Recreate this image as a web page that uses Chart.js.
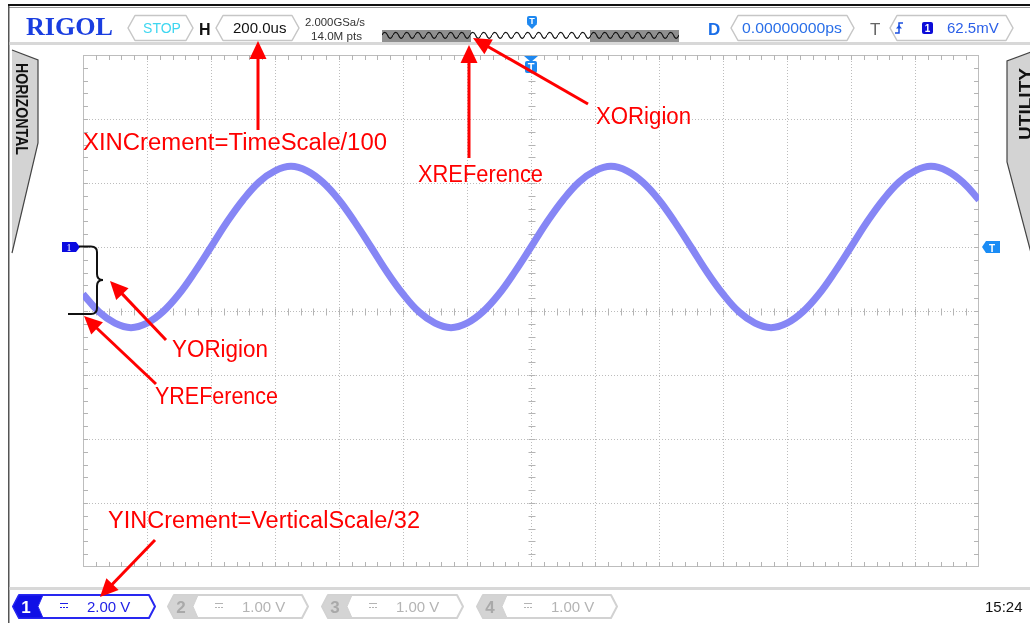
<!DOCTYPE html>
<html><head><meta charset="utf-8">
<script src="https://cdn.jsdelivr.net/npm/chart.js@4/dist/chart.umd.min.js"></script>
<style>
html,body{margin:0;padding:0;background:#fff;width:1030px;height:623px;overflow:hidden}
#wrap{position:relative;width:1030px;height:623px}
#c{position:absolute;left:0;top:0}
#ov{position:absolute;left:0;top:0;pointer-events:none}
text{font-family:'Liberation Sans',Arial,sans-serif}
</style></head><body>
<div id="wrap"><canvas id="c" width="1030" height="623"></canvas>
<svg id="ov" width="1030" height="623" xmlns="http://www.w3.org/2000/svg"></svg></div>
<script>
// ---- data (time in µs, channel 1 in volts) ----
const timesUs = [-1400,-1350,-1300,-1250,-1200,-1150,-1100,-1050,-1000,-950,-900,-850,-800,-750,-700,-650,-600,-550,-500,-450,-400,-350,-300,-250,-200,-150,-100,-50,0,50,100,150,200,250,300,350,400,450,500,550,600,650,700,750,800,850,900,950,1000,1050,1100,1150,1200,1250,1300,1350,1400];
const ch1Volts = [-1.47,-2.03,-2.38,-2.52,-2.38,-2.02,-1.47,-0.77,0.00,0.78,1.47,2.03,2.38,2.52,2.38,2.02,1.47,0.77,0.00,-0.78,-1.47,-2.03,-2.38,-2.52,-2.38,-2.02,-1.47,-0.77,0.00,0.78,1.47,2.03,2.38,2.52,2.38,2.02,1.47,0.77,0.00,-0.78,-1.47,-2.03,-2.38,-2.52,-2.38,-2.02,-1.47,-0.77,0.00,0.78,1.47,2.03,2.38,2.52,2.38,2.02,1.47];
const xRangeUs = [-1400, 1400];   // 14 divisions of 200 µs
const yRangeV = [-10, 6];         // 8 divisions of 2 V, CH1 offset +1 div
const xDivUs = 200, yDivV = 2;
const annotations = ["XINCrement=TimeScale/100","XORigion","XREFerence","YORigion","YREFerence","YINCrement=VerticalScale/32"];

const gridPlugin = {
  id: 'scopeGrid',
  beforeDatasetsDraw(chart){
    const {ctx, chartArea:a, scales:{x, y}} = chart;
    const nx = Math.round((xRangeUs[1]-xRangeUs[0])/xDivUs);
    const ny = Math.round((yRangeV[1]-yRangeV[0])/yDivV);
    const L = (x1,y1,x2,y2)=>{ctx.beginPath();ctx.moveTo(x1,y1);ctx.lineTo(x2,y2);ctx.stroke();};
    ctx.save();
    ctx.lineWidth = 1;
    ctx.strokeStyle = '#bcbcbc';
    ctx.setLineDash([1,2]);
    for(let i=1;i<nx;i++){const px=Math.round(x.getPixelForValue(xRangeUs[0]+i*xDivUs))+0.5; L(px,a.top,px,a.bottom);}
    for(let j=1;j<ny;j++){const py=Math.round(y.getPixelForValue(yRangeV[0]+j*yDivV))+0.5; L(a.left,py,a.right,py);}
    ctx.setLineDash([]);
    ctx.strokeStyle = '#bdbdbd';
    ctx.strokeRect(Math.round(a.left)+0.5, Math.round(a.top)+0.5, Math.round(a.width)-1, Math.round(a.height)-1);
    // minor ticks: edges (inward) and centre lines (both sides)
    ctx.strokeStyle = '#b4b4b4';
    const cx = Math.round(x.getPixelForValue((xRangeUs[0]+xRangeUs[1])/2))+0.5;
    const cy = Math.round(y.getPixelForValue((yRangeV[0]+yRangeV[1])/2))+0.5;
    for(let i=1;i<nx*5;i++){
      const px=Math.round(x.getPixelForValue(xRangeUs[0]+i*xDivUs/5))+0.5;
      L(px,a.top,px,a.top+5); L(px,a.bottom,px,a.bottom-5); L(px,cy-3,px,cy+4);
    }
    for(let j=1;j<ny*5;j++){
      const py=Math.round(y.getPixelForValue(yRangeV[0]+j*yDivV/5))+0.5;
      L(a.left,py,a.left+5,py); L(a.right,py,a.right-5,py); L(cx-3,py,cx+4,py);
    }
    ctx.restore();
  }
};

new Chart(document.getElementById('c'), {
  type: 'line',
  data: { datasets: [{
    data: timesUs.map((t,i)=>({x:t, y:ch1Volts[i]})),
    borderColor: 'rgb(134,134,245)', borderWidth: 7, pointRadius: 0, tension: 0.4, fill: false
  }]},
  options: {
    responsive: false, animation: false, events: [],
    layout: { padding: { left: 83, top: 55, right: 51, bottom: 56 } },
    scales: {
      x: { type: 'linear', min: xRangeUs[0], max: xRangeUs[1], display: false },
      y: { min: yRangeV[0], max: yRangeV[1], display: false }
    },
    plugins: { legend: { display: false }, tooltip: { enabled: false } }
  },
  plugins: [gridPlugin]
});

// ---- instrument chrome and annotations (SVG overlay) ----
function box(x1,x2,y1,y2,d){const m=(y1+y2)/2;return `M${x1+d},${y1} H${x2-d} L${x2},${m} L${x2-d},${y2} H${x1+d} L${x1},${m} Z`;}
function arrow(x1,y1,x2,y2){
  const dx=x2-x1, dy=y2-y1, l=Math.hypot(dx,dy), ux=dx/l, uy=dy/l, hl=18, hw=8.5;
  const bx=x2-ux*hl, by=y2-uy*hl;
  return `<line x1="${x1}" y1="${y1}" x2="${bx+ux*2}" y2="${by+uy*2}" stroke="#ff0000" stroke-width="3"/>`+
         `<polygon points="${x2},${y2} ${bx-uy*hw},${by+ux*hw} ${bx+uy*hw},${by-ux*hw}" fill="#ff0000"/>`;
}
function chan(x1,x2,num,volt,on){
  const y1=595,y2=618,m=(y1+y2)/2,d=6;
  const stroke=on?'#2828f0':'#d2d2d2', fillL=on?'#1010e6':'#d4d4d4', txt=on?'#1e1ee6':'#b4b4b4', dig=on?'#fff':'#a9a9a9';
  let s=`<path d="${box(x1,x2,y1,y2,d)}" fill="#fff" stroke="${stroke}" stroke-width="2" stroke-linejoin="round"/>`;
  s+=`<path d="M${x1},${m} L${x1+d},${y1} H${x1+30} L${x1+25},${m} L${x1+30},${y2} H${x1+d} Z" fill="${fillL}" stroke="${stroke}" stroke-width="1" stroke-linejoin="round"/>`;
  s+=`<text x="${x1+13}" y="613" font-size="17" font-weight="bold" fill="${dig}" text-anchor="middle">${num}</text>`;
  const sx=x1+47;
  s+=`<line x1="${sx}" y1="603.5" x2="${sx+8}" y2="603.5" stroke="${txt}" stroke-width="1"/>`;
  s+=`<line x1="${sx}" y1="607.5" x2="${sx+8}" y2="607.5" stroke="${txt}" stroke-width="1" stroke-dasharray="2,1"/>`;
  s+=`<text x="${x1+74}" y="612" font-size="15" fill="${txt}">${volt}</text>`;
  return s;
}
let s = '';
s += `<defs><pattern id="mw" x="382" y="30" width="11" height="12" patternUnits="userSpaceOnUse"><path d="M0,5 C1.8,1.5 3.7,1.5 5.5,5 C7.3,9.5 9.2,9.5 11,5" fill="none" stroke="#111" stroke-width="1.1"/></pattern></defs>`;
// frame
s += `<rect x="8" y="4" width="1022" height="2" fill="#111"/><rect x="8" y="7" width="1022" height="1" fill="#999"/>`;
s += `<rect x="8" y="6" width="1.5" height="617" fill="#555"/>`;
s += `<rect x="9.5" y="42" width="1021" height="3" fill="#d8d8d8"/><rect x="9.5" y="587" width="1021" height="3" fill="#d8d8d8"/>`;
// top bar
s += `<text x="26" y="35" font-size="26" font-weight="bold" fill="#1a3ee0" textLength="87" lengthAdjust="spacingAndGlyphs" style="font-family:'Liberation Serif','Times New Roman',serif">RIGOL</text>`;
s += `<path d="${box(128,193,15.5,40.5,7)}" fill="#fff" stroke="#c6c6c6" stroke-width="1.5" stroke-linejoin="round"/>`;
s += `<text x="162" y="33" font-size="14" fill="#3ed6f0" text-anchor="middle">STOP</text>`;
s += `<text x="199" y="35" font-size="16" font-weight="bold" fill="#111">H</text>`;
s += `<path d="${box(216,299,15.5,40.5,7)}" fill="#fff" stroke="#c6c6c6" stroke-width="1.5" stroke-linejoin="round"/>`;
s += `<text x="233" y="33" font-size="15" fill="#111">200.0us</text>`;
s += `<text x="305" y="26" font-size="11.5" fill="#333" textLength="60" lengthAdjust="spacingAndGlyphs">2.000GSa/s</text>`;
s += `<text x="311" y="40" font-size="11.5" fill="#333" textLength="51" lengthAdjust="spacingAndGlyphs">14.0M pts</text>`;
s += `<rect x="382" y="30" width="89" height="12" fill="#8f8f8f"/><rect x="471" y="30" width="119" height="12" fill="#fff"/><rect x="590" y="30" width="89" height="12" fill="#8f8f8f"/>`;
s += `<rect x="382" y="30" width="297" height="12" fill="url(#mw)"/>`;
s += `<rect x="527" y="16" width="10" height="9" rx="2" fill="#1e88f0"/><path d="M527,24 H537 L532,29 Z" fill="#1e88f0"/><text x="532" y="24" font-size="9" font-weight="bold" fill="#fff" text-anchor="middle">T</text>`;
s += `<text x="708" y="35" font-size="17" font-weight="bold" fill="#1a6ee8">D</text>`;
s += `<path d="${box(731,854,15.5,40.5,7)}" fill="#fff" stroke="#c6c6c6" stroke-width="1.5" stroke-linejoin="round"/>`;
s += `<text x="742" y="33" font-size="15" fill="#2a6fe8" textLength="100" lengthAdjust="spacingAndGlyphs">0.00000000ps</text>`;
s += `<text x="870" y="35" font-size="17" fill="#666">T</text>`;
s += `<path d="${box(890,1013,15.5,40.5,7)}" fill="#fff" stroke="#c6c6c6" stroke-width="1.5" stroke-linejoin="round"/>`;
s += `<path d="M895,33 H899 V23 H903" fill="none" stroke="#1a4fe0" stroke-width="1.5"/><path d="M896,28.5 L899,25 L902,28.5 Z" fill="#1a4fe0"/>`;
s += `<rect x="922" y="22" width="11" height="12" rx="2" fill="#0c0cd8"/><text x="927.5" y="32" font-size="10" font-weight="bold" fill="#fff" text-anchor="middle">1</text>`;
s += `<text x="947" y="33" font-size="15" fill="#2a5fe8">62.5mV</text>`;
// side tabs
s += `<polygon points="12,50 38,60 38,143 12,253" fill="#d3d3d3"/><polyline points="12,50 38,60 38,143 12,253" fill="none" stroke="#444" stroke-width="1.2"/>`;
s += `<text transform="translate(16,109) rotate(90)" font-size="16" font-weight="bold" fill="#111" text-anchor="middle" textLength="92" lengthAdjust="spacingAndGlyphs">HORIZONTAL</text>`;
s += `<polygon points="1031,52 1007,61 1007,162 1031,253" fill="#d3d3d3"/><polyline points="1031,52 1007,61 1007,162 1031,253" fill="none" stroke="#444" stroke-width="1.2"/>`;
s += `<text transform="translate(1030.5,104) rotate(-90)" font-size="17" font-weight="bold" fill="#111" text-anchor="middle" textLength="72" lengthAdjust="spacingAndGlyphs">UTILITY</text>`;
// markers
s += `<path d="M524,56 H538 L531,62 Z" fill="#1e88f0"/><rect x="525" y="61" width="12" height="12" rx="2" fill="#1e88f0"/><text x="531" y="71" font-size="11" font-weight="bold" fill="#fff" text-anchor="middle">T</text>`;
s += `<path d="M62,242 H76 L80,247 L76,252 H62 Z" fill="#0a0ae0"/><text x="69" y="251" font-size="10" fill="#fff" text-anchor="middle" style="font-family:'Liberation Serif',serif">1</text>`;
s += `<path d="M1000,241 H986 L982,247 L986,253 H1000 Z" fill="#1a8cf5"/><text x="992" y="251.5" font-size="10" font-weight="bold" fill="#fff" text-anchor="middle">T</text>`;
// brace
s += `<path d="M79,246.5 H91 Q97,246.5 97,252 V274 Q97,280 103,280 Q97,280 97,286 V308 Q97,314 91,314 H68" fill="none" stroke="#111" stroke-width="2"/>`;
// bottom bar
s += chan(13,155,'1','2.00 V',true);
s += chan(168,308,'2','1.00 V',false);
s += chan(322,463,'3','1.00 V',false);
s += chan(477,617,'4','1.00 V',false);
s += `<text x="985" y="612" font-size="15" fill="#111">15:24</text>`;
// annotations
s += arrow(258,130,258,41);
s += arrow(469,158,469,45);
s += arrow(588,104,473,38);
s += arrow(166,340,110,281);
s += arrow(156,384,84,316);
s += arrow(155,540,100,597);
const lab = [[83,150,304],[596,124,95],[418,182,125],[172,357,96],[155,404,123],[108,528,312]];
annotations.forEach((t,i)=>{const [x,y,w]=lab[i]; s += `<text x="${x}" y="${y}" font-size="23" fill="#ff0000" textLength="${w}" lengthAdjust="spacingAndGlyphs">${t}</text>`;});
document.getElementById('ov').innerHTML = s;
</script>
</body></html>
